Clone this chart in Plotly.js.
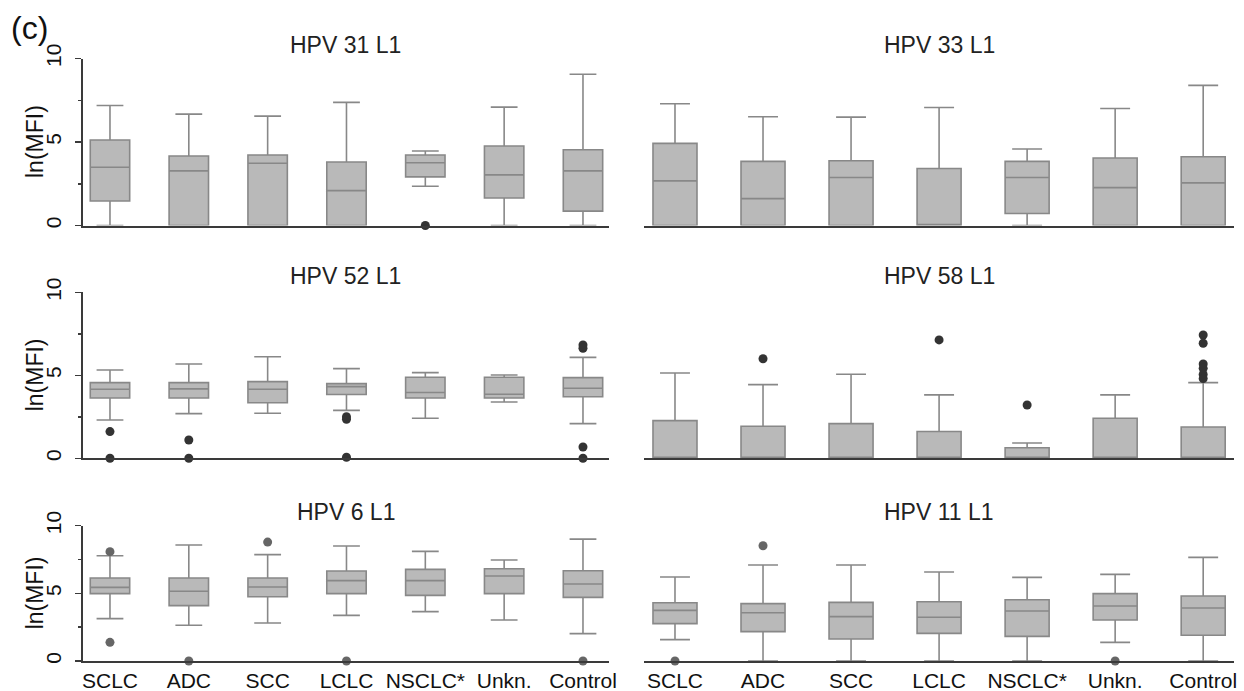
<!DOCTYPE html>
<html>
<head>
<meta charset="utf-8">
<script src="https://cdn.plot.ly/plotly-3.0.1.min.js"></script>
<style>html,body{margin:0;padding:0;background:#fff;}#chart{width:1244px;height:691px;}</style>
</head>
<body>
<div id="chart"></div>
<script>
// ---------- DATA ----------
const categories = ["SCLC", "ADC", "SCC", "LCLC", "NSCLC*", "Unkn.", "Control"];
const panelTitles = ["HPV 31 L1", "HPV 33 L1", "HPV 52 L1", "HPV 58 L1", "HPV 6 L1", "HPV 11 L1"];
const yTickVals = [0, 5, 10];
const yTickText = ["0", "5", "10"];
const yAxisLabel = "ln(MFI)";
const panelTag = "(c)";

// HPV 31 L1
const hpv31Low  = [0, 0, 0, 0, 2.35, 0, 0];
const hpv31Q1   = [1.47, 0, 0, 0, 2.91, 1.65, 0.86];
const hpv31Med  = [3.49, 3.27, 3.73, 2.09, 3.76, 3.03, 3.27];
const hpv31Q3   = [5.12, 4.16, 4.22, 3.80, 4.22, 4.76, 4.54];
const hpv31High = [7.19, 6.67, 6.55, 7.37, 4.46, 7.09, 9.06];
const hpv31OutX = ["NSCLC*"];
const hpv31OutY = [0];

// HPV 33 L1
const hpv33Low  = [0, 0, 0, 0, 0, 0, 0];
const hpv33Q1   = [0, 0, 0, 0, 0.72, 0, 0];
const hpv33Med  = [2.67, 1.61, 2.87, 0, 2.87, 2.27, 2.55];
const hpv33Q3   = [4.92, 3.84, 3.88, 3.41, 3.84, 4.04, 4.12];
const hpv33High = [7.29, 6.51, 6.49, 7.07, 4.58, 7.01, 8.39];
const hpv33OutX = [];
const hpv33OutY = [];

// HPV 52 L1
const hpv52Low  = [2.31, 2.69, 2.71, 2.89, 2.41, 3.39, 2.09];
const hpv52Q1   = [3.63, 3.63, 3.35, 3.84, 3.63, 3.63, 3.71];
const hpv52Med  = [4.16, 4.18, 4.16, 4.32, 3.96, 3.86, 4.22];
const hpv52Q3   = [4.56, 4.56, 4.62, 4.50, 4.88, 4.88, 4.86];
const hpv52High = [5.32, 5.68, 6.12, 5.40, 5.16, 5.02, 6.08];
const hpv52OutX = ["SCLC", "SCLC", "ADC", "ADC", "LCLC", "LCLC", "LCLC", "Control", "Control", "Control", "Control"];
const hpv52OutY = [1.61, 0, 1.10, 0, 2.51, 2.35, 0.06, 6.83, 6.63, 0.68, 0];

// HPV 58 L1
const hpv58Low  = [0, 0, 0, 0, 0, 0, 0];
const hpv58Q1   = [0, 0, 0, 0, 0, 0, 0];
const hpv58Med  = [0, 0, 0, 0, 0, 0, 0];
const hpv58Q3   = [2.27, 1.93, 2.09, 1.61, 0.64, 2.41, 1.89];
const hpv58High = [5.14, 4.44, 5.06, 3.82, 0.92, 3.82, 4.56];
const hpv58OutX = ["ADC", "LCLC", "NSCLC*", "Control", "Control", "Control", "Control", "Control", "Control"];
const hpv58OutY = [6.00, 7.13, 3.21, 7.43, 6.93, 5.68, 5.42, 5.05, 4.80];

// HPV 6 L1
const hpv6Low  = [3.13, 2.64, 2.81, 3.37, 3.65, 3.03, 2.02];
const hpv6Q1   = [4.98, 4.09, 4.75, 4.98, 4.85, 4.98, 4.70];
const hpv6Med  = [5.44, 5.15, 5.47, 5.94, 5.94, 6.28, 5.69];
const hpv6Q3   = [6.13, 6.13, 6.13, 6.65, 6.77, 6.82, 6.67];
const hpv6High = [7.78, 8.57, 7.86, 8.50, 8.10, 7.46, 9.01];
const hpv6OutX = ["SCLC", "SCLC", "ADC", "SCC", "LCLC", "Control"];
const hpv6OutY = [8.08, 1.38, 0, 8.79, 0, 0];

// HPV 11 L1
const hpv11Low  = [1.58, 0, 0, 0, 0, 1.38, 0];
const hpv11Q1   = [2.76, 2.17, 1.63, 2.04, 1.82, 3.03, 1.90];
const hpv11Med  = [3.74, 3.57, 3.28, 3.23, 3.69, 4.06, 3.92];
const hpv11Q3   = [4.31, 4.24, 4.33, 4.38, 4.53, 4.98, 4.80];
const hpv11High = [6.21, 7.09, 7.09, 6.58, 6.18, 6.40, 7.66];
const hpv11OutX = ["SCLC", "ADC", "Unkn."];
const hpv11OutY = [0, 8.52, 0];

// ---------- BUILD ----------
const panels = [
  {low: hpv31Low, q1: hpv31Q1, med: hpv31Med, q3: hpv31Q3, high: hpv31High, ox: hpv31OutX, oy: hpv31OutY},
  {low: hpv33Low, q1: hpv33Q1, med: hpv33Med, q3: hpv33Q3, high: hpv33High, ox: hpv33OutX, oy: hpv33OutY},
  {low: hpv52Low, q1: hpv52Q1, med: hpv52Med, q3: hpv52Q3, high: hpv52High, ox: hpv52OutX, oy: hpv52OutY},
  {low: hpv58Low, q1: hpv58Q1, med: hpv58Med, q3: hpv58Q3, high: hpv58High, ox: hpv58OutX, oy: hpv58OutY},
  {low: hpv6Low, q1: hpv6Q1, med: hpv6Med, q3: hpv6Q3, high: hpv6High, ox: hpv6OutX, oy: hpv6OutY},
  {low: hpv11Low, q1: hpv11Q1, med: hpv11Med, q3: hpv11Q3, high: hpv11High, ox: hpv11OutX, oy: hpv11OutY}
];

const W = 1244, H = 691;
const leftDom = [82.7 / W, 609 / W];
const rightDom = [644 / W, 1234 / W];
const leftRange = [-0.346, 6.33];
const rightRange = [-0.352, 6.35];
const rowPx = [[58.5, 225.5], [292.3, 458.3], [525.7, 661]];
const rowDom = rowPx.map(r => [1 - r[1] / H, 1 - r[0] / H]);
const outlierColors = ["#333333", "#333333", "#333333", "#333333", "#666666", "#666666"];

const FONT = "Liberation Sans, Arial, Helvetica, sans-serif";
const traces = [];
const layout = {
  width: W, height: H,
  margin: {l: 0, r: 0, t: 0, b: 0},
  paper_bgcolor: "#ffffff", plot_bgcolor: "#ffffff",
  showlegend: false,
  font: {family: FONT, color: "#222222"},
  annotations: []
};

panels.forEach((p, i) => {
  const n = i + 1;
  const xa = n === 1 ? "x" : "x" + n;
  const ya = n === 1 ? "y" : "y" + n;
  const row = Math.floor(i / 2);
  const isLeft = i % 2 === 0;
  traces.push({
    type: "box", xaxis: xa, yaxis: ya,
    x: categories,
    q1: p.q1, median: p.med, q3: p.q3, lowerfence: p.low, upperfence: p.high,
    boxpoints: false,
    fillcolor: "#b9b9b9",
    line: {color: "#888888", width: 1.6},
    width: 0.5, whiskerwidth: 0.68,
    hoverinfo: "skip"
  });
  traces.push({
    type: "scatter", mode: "markers", xaxis: xa, yaxis: ya,
    x: p.ox, y: p.oy,
    marker: {size: 9, color: outlierColors[i]},
    cliponaxis: false, hoverinfo: "skip"
  });
  const xKey = n === 1 ? "xaxis" : "xaxis" + n;
  const yKey = n === 1 ? "yaxis" : "yaxis" + n;
  layout[xKey] = {
    domain: isLeft ? leftDom : rightDom,
    anchor: ya,
    type: "category",
    categoryorder: "array", categoryarray: categories,
    range: isLeft ? leftRange : rightRange,
    showgrid: false, zeroline: false,
    showline: true, linecolor: "#3a3a3a", linewidth: 2,
    ticks: "", showticklabels: row === 2,
    tickfont: {size: 21, color: "#111111", family: FONT},
    ticklabelstandoff: 0,
    fixedrange: true
  };
  layout[yKey] = {
    domain: rowDom[row],
    anchor: xa,
    range: [0, 10],
    visible: isLeft,
    showgrid: false, zeroline: false,
    showline: true, linecolor: "#3a3a3a", linewidth: 2,
    ticks: "outside", ticklen: 6, tickwidth: 1.5, tickcolor: "#3a3a3a",
    tickvals: yTickVals, ticktext: yTickText,
    minor: {tickvals: [2.5, 7.5], ticks: "outside", ticklen: 3, tickwidth: 1.5, tickcolor: "#3a3a3a"},
    tickangle: -90,
    tickfont: {size: 21, color: "#111111", family: FONT},
    ticklabelstandoff: 5,
    fixedrange: true
  };
  const dom = isLeft ? leftDom : rightDom;
  layout.annotations.push({
    text: panelTitles[i], xref: "paper", yref: "paper",
    x: (dom[0] + dom[1]) / 2, y: 1 - [45, 276, 512][row] / H,
    xanchor: "center", yanchor: "middle", showarrow: false,
    font: {size: 23, color: "#222222", family: FONT}
  });
  if (isLeft) {
    layout.annotations.push({
      text: yAxisLabel, xref: "paper", yref: "paper",
      x: 35 / W, y: (rowDom[row][0] + rowDom[row][1]) / 2,
      xanchor: "center", yanchor: "middle", textangle: -90, showarrow: false,
      font: {size: 23, color: "#111111", family: FONT}
    });
  }
});

layout.annotations.push({
  text: panelTag, xref: "paper", yref: "paper",
  x: 9 / W, y: 1 - 28 / H, xanchor: "left", yanchor: "middle", showarrow: false,
  font: {size: 32, color: "#111111", family: FONT}
});

Plotly.newPlot("chart", traces, layout, {displayModeBar: false, staticPlot: true});
</script>
</body>
</html>
